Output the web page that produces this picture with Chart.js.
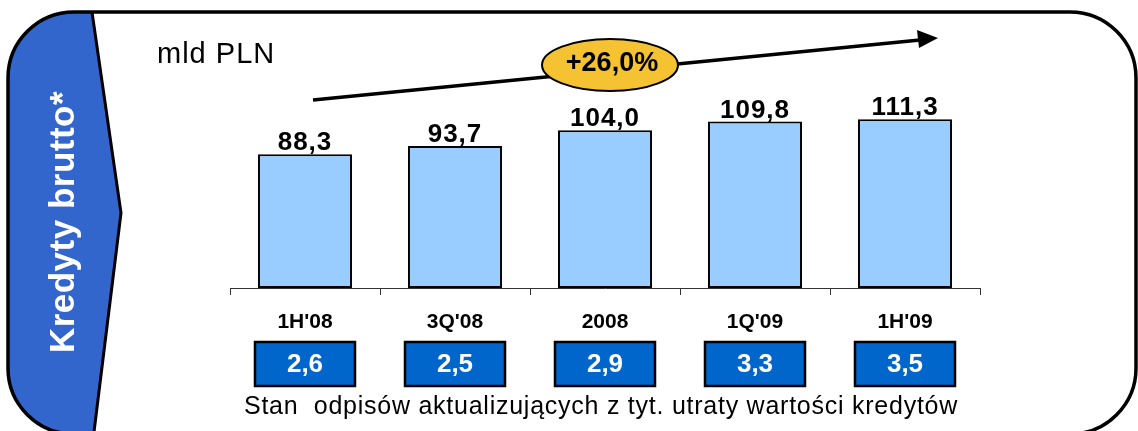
<!doctype html>
<html lang="pl">

<head>
    <meta charset="UTF-8" />
    <title>Kredyty brutto</title>
    <style>
        html, body { margin: 0; padding: 0; background: #fff; }
        canvas { display: block; }
    </style>
</head>

<body>
    <canvas id="chart" width="1138" height="431"></canvas>

    <script src="https://cdn.jsdelivr.net/npm/chart.js"></script>
    <script>
        // Data.
        const CATEGORIES = ["1H'08", "3Q'08", '2008', "1Q'09", "1H'09"];
        const LOANS = [88.3, 93.7, 104.0, 109.8, 111.3];       // mld PLN
        const PROVISIONS = [2.6, 2.5, 2.9, 3.3, 3.5];          // odpisy aktualizujace
        const GROWTH = '+26,0%';
        const UNIT = 'mld PLN';
        const SIDE_TITLE = 'Kredyty brutto*';
        const CAPTION = 'Stan  odpisów aktualizujących z tyt. utraty wartości kredytów';

        const FONT = 'Arial, "Liberation Sans", sans-serif';

        function fmt(v) {
            return v.toFixed(1).replace('.', ',');
        }

        function framePath(ctx) {
            ctx.beginPath();
            ctx.roundRect(8, 12, 1128, 422, 66);
        }

        // Slide frame, blue side tab and the texts around the plot.
        const slide = {
            id: 'slide',
            beforeDraw(chart) {
                const ctx = chart.ctx;
                ctx.save();
                ctx.fillStyle = '#fff';
                ctx.fillRect(0, 0, chart.width, chart.height);

                // blue tab on the left, clipped to the frame
                ctx.save();
                framePath(ctx);
                ctx.clip();
                ctx.beginPath();
                ctx.moveTo(0, 0);
                ctx.lineTo(92, 0);
                ctx.lineTo(92, 12);
                ctx.lineTo(121, 213);
                ctx.lineTo(93, 440);
                ctx.lineTo(0, 440);
                ctx.closePath();
                ctx.fillStyle = '#3366CC';
                ctx.fill();
                ctx.beginPath();
                ctx.moveTo(92, 12);
                ctx.lineTo(121, 213);
                ctx.lineTo(93, 440);
                ctx.lineWidth = 3;
                ctx.strokeStyle = '#000';
                ctx.stroke();
                ctx.restore();

                framePath(ctx);
                ctx.lineWidth = 3.5;
                ctx.strokeStyle = '#000';
                ctx.stroke();

                // rotated side title
                ctx.save();
                ctx.translate(64, 222);
                ctx.rotate(-Math.PI / 2);
                ctx.fillStyle = '#fff';
                ctx.font = 'bold 35px ' + FONT;
                ctx.letterSpacing = '0.5px';
                ctx.textAlign = 'center';
                ctx.textBaseline = 'middle';
                ctx.fillText(SIDE_TITLE, 0, 0);
                ctx.restore();

                // unit
                ctx.fillStyle = '#000';
                ctx.font = '29px ' + FONT;
                ctx.letterSpacing = '1px';
                ctx.textAlign = 'left';
                ctx.textBaseline = 'alphabetic';
                ctx.fillText(UNIT, 157, 63);

                ctx.restore();
            },
            afterDatasetsDraw(chart) {
                const ctx = chart.ctx;
                const x = chart.scales.x;
                const meta = chart.getDatasetMeta(0);
                ctx.save();

                // values above bars
                ctx.fillStyle = '#000';
                ctx.font = 'bold 26px ' + FONT;
                ctx.letterSpacing = '1px';
                ctx.textAlign = 'center';
                ctx.textBaseline = 'alphabetic';
                meta.data.forEach((bar, i) => {
                    ctx.fillText(fmt(LOANS[i]), bar.x, bar.y - 4);
                });

                // provision boxes under the axis
                ctx.letterSpacing = '0px';
                PROVISIONS.forEach((v, i) => {
                    const cx = x.getPixelForValue(i);
                    ctx.fillStyle = '#0066CC';
                    ctx.fillRect(cx - 50, 342, 100, 44);
                    ctx.lineWidth = 2.5;
                    ctx.strokeStyle = '#000';
                    ctx.strokeRect(cx - 50, 342, 100, 44);
                    ctx.fillStyle = '#fff';
                    ctx.font = 'bold 26px ' + FONT;
                    ctx.textBaseline = 'middle';
                    ctx.fillText(fmt(v), cx, 365);
                });

                // caption
                ctx.fillStyle = '#000';
                ctx.font = '25px ' + FONT;
                ctx.letterSpacing = '0.75px';
                ctx.textBaseline = 'alphabetic';
                ctx.fillText(CAPTION, 601, 414);
                ctx.letterSpacing = '0px';

                // growth arrow
                ctx.beginPath();
                ctx.moveTo(313, 100);
                ctx.lineTo(920, 40);
                ctx.lineWidth = 3.5;
                ctx.strokeStyle = '#000';
                ctx.stroke();
                ctx.beginPath();
                ctx.moveTo(938, 38);
                ctx.lineTo(917, 30);
                ctx.lineTo(919, 48);
                ctx.closePath();
                ctx.fillStyle = '#000';
                ctx.fill();

                // growth ellipse
                ctx.beginPath();
                ctx.ellipse(610, 65, 68, 26, 0, 0, Math.PI * 2);
                ctx.fillStyle = '#F5C232';
                ctx.fill();
                ctx.lineWidth = 2;
                ctx.strokeStyle = '#000';
                ctx.stroke();
                ctx.fillStyle = '#000';
                ctx.font = 'bold 27px "Liberation Sans Narrow", ' + FONT;
                ctx.textBaseline = 'middle';
                ctx.fillText(GROWTH, 612, 64);

                ctx.restore();
            }
        };

        new Chart(document.getElementById('chart'), {
            type: 'bar',
            data: {
                labels: CATEGORIES,
                datasets: [{
                    data: LOANS,
                    backgroundColor: '#99CCFF',
                    borderColor: '#000',
                    borderWidth: 2,
                    borderSkipped: false,
                    categoryPercentage: 1,
                    barPercentage: 0.627,
                }],
            },
            options: {
                responsive: false,
                animation: false,
                devicePixelRatio: 1,
                layout: { padding: { left: 230, right: 158, top: 100, bottom: 0 } },
                plugins: {
                    legend: { display: false },
                    tooltip: { enabled: false },
                },
                scales: {
                    x: {
                        afterFit: (s) => { s.height = 143; },
                        border: { display: true, color: '#333', width: 1 },
                        grid: { drawOnChartArea: false, drawTicks: true, tickLength: 7, color: '#333', offset: true },
                        ticks: {
                            color: '#000',
                            padding: 15,
                            font: { family: FONT, size: 21, weight: 'bold' },
                        },
                    },
                    y: {
                        display: false,
                        min: 0,
                        max: 124,
                    },
                },
            },
            plugins: [slide],
        });
    </script>
</body>

</html>
